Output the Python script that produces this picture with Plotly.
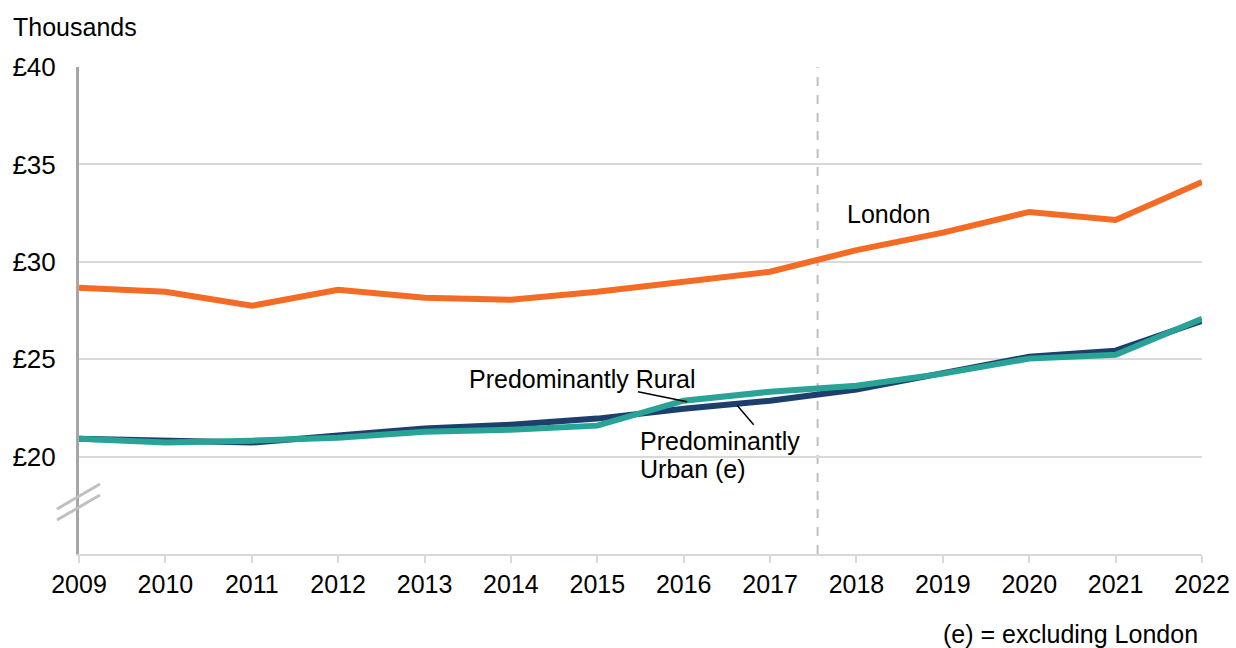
import plotly.graph_objects as go

years = list(range(2009, 2023))
london = [28.67, 28.46, 27.74, 28.56, 28.15, 28.05, 28.46, 28.97, 29.49, 30.6, 31.5, 32.56, 32.15, 34.1]
urban = [20.92, 20.82, 20.72, 21.08, 21.44, 21.64, 21.95, 22.46, 22.87, 23.44, 24.26, 25.13, 25.44, 26.97]
rural = [20.92, 20.72, 20.82, 20.97, 21.28, 21.38, 21.59, 22.87, 23.33, 23.64, 24.26, 25.03, 25.23, 27.08]
ytick_vals = [20, 25, 30, 35, 40]
ytick_text = ["£20", "£25", "£30", "£35", "£40"]

FONT = "Liberation Sans, Arial, sans-serif"
FS = 25

W, H = 1236, 648
PL, PR, PT, PB = 79, 1202, 67, 554  # plot area in window pixels

def px(x):
    return (x - PL) / (PR - PL)

def py(y):
    return (PB - y) / (PB - PT)

fig = go.Figure()
fig.add_trace(go.Scatter(x=years, y=london, mode="lines", line=dict(color="#f46b25", width=6), name="London"))
fig.add_trace(go.Scatter(x=years, y=urban, mode="lines", line=dict(color="#1c3f6b", width=6), name="Urban"))
fig.add_trace(go.Scatter(x=years, y=rural, mode="lines", line=dict(color="#2aa397", width=6), name="Rural"))

shapes = [
    dict(type="line", xref="x", yref="paper", x0=2017.55, x1=2017.55, y0=0, y1=1,
         line=dict(color="#bfbfbf", width=2, dash="dash"), layer="below"),
    dict(type="line", xref="x", yref="y", x0=2015.47, y0=23.33, x1=2016.04, y1=22.82,
         line=dict(color="black", width=1.5)),
    dict(type="line", xref="x", yref="y", x0=2016.62, y0=22.62, x1=2016.81, y1=21.64,
         line=dict(color="black", width=1.5)),
    dict(type="line", xref="paper", yref="paper", x0=px(57), y0=py(509), x1=px(100), y1=py(484),
         line=dict(color="#c0c0c0", width=3)),
    dict(type="line", xref="paper", yref="paper", x0=px(57), y0=py(520), x1=px(100), y1=py(495),
         line=dict(color="#c0c0c0", width=3)),
]

annotations = [
    dict(text="Thousands", xref="paper", yref="paper", x=px(11), y=py(27), xanchor="left", yanchor="middle",
         showarrow=False, font=dict(family=FONT, size=FS, color="black")),
    dict(text="London", xref="x", yref="y", x=2017.87, y=32.46, xanchor="left", yanchor="middle",
         showarrow=False, font=dict(family=FONT, size=FS, color="black")),
    dict(text="Predominantly Rural", xref="x", yref="y", x=2013.49, y=24.0, xanchor="left", yanchor="middle",
         showarrow=False, font=dict(family=FONT, size=FS, color="black")),
    dict(text="Predominantly", xref="x", yref="y", x=2015.47, y=20.8, xanchor="left", yanchor="middle",
         showarrow=False, font=dict(family=FONT, size=FS, color="black")),
    dict(text="Urban (e)", xref="x", yref="y", x=2015.47, y=19.36, xanchor="left", yanchor="middle",
         showarrow=False, font=dict(family=FONT, size=FS, color="black")),
    dict(text="(e) = excluding London", xref="paper", yref="paper", x=px(1200), y=py(634), xanchor="right", yanchor="middle",
         showarrow=False, font=dict(family=FONT, size=FS, color="black")),
]

fig.update_layout(
    width=W, height=H,
    margin=dict(l=PL, r=W - PR, t=PT, b=H - PB, pad=0, autoexpand=False),
    paper_bgcolor="white", plot_bgcolor="white",
    showlegend=False,
    font=dict(family=FONT, size=FS, color="black"),
    shapes=shapes, annotations=annotations,
    xaxis=dict(range=[2009, 2022], tickvals=years, ticktext=[str(y) for y in years],
               automargin=False, ticklabeloverflow="allow",
               showgrid=False, zeroline=False, showline=True, linecolor="#d9d9d9", linewidth=2,
               ticks="outside", ticklen=7, tickcolor="#d9d9d9", tickwidth=1.5,
               tickfont=dict(family=FONT, size=FS, color="black")),
    yaxis=dict(range=[15, 40], tickvals=ytick_vals, ticktext=ytick_text,
               automargin=False,
               showgrid=True, gridcolor="#d9d9d9", gridwidth=1.5, zeroline=False,
               showline=True, linecolor="#a6a6a6", linewidth=3,
               ticks="", ticklabelstandoff=15,
               tickfont=dict(family=FONT, size=26, color="black")),
)

fig.write_html("out.html", config={"displayModeBar": False},
               post_script="document.body.style.margin='0';document.body.style.overflow='hidden';")
